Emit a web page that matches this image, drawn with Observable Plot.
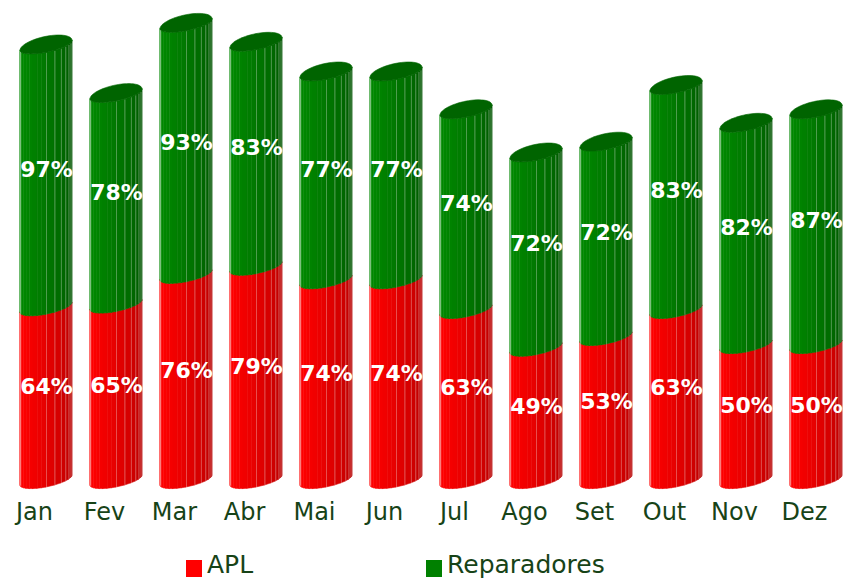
<!DOCTYPE html>
<html><head><meta charset="utf-8">
<script src="https://cdn.jsdelivr.net/npm/d3@7"></script>
<script src="https://cdn.jsdelivr.net/npm/@observablehq/plot@0.6"></script>
<style>
html,body{margin:0;padding:0;background:#fff;}
#chart{position:relative;width:843px;height:580px;overflow:hidden;font-family:"DejaVu Sans",Verdana,sans-serif;}
#plot{position:absolute;left:0;top:0;}
#legend{position:absolute;left:0;top:540px;width:843px;height:40px;}
.item{position:absolute;top:12px;height:25px;line-height:25px;font-size:25px;color:#174317;white-space:nowrap;}
.sw{position:absolute;top:8px;left:0;width:16px;height:17px;}
.lbl{position:absolute;left:21px;top:0;}
</style></head><body>
<div id="chart"><div id="plot"></div><div id="legend"></div></div>
<script>
// ---- data ----
const months = ["Jan","Fev","Mar","Abr","Mai","Jun","Jul","Ago","Set","Out","Nov","Dez"];
const apl = [64,65,76,79,74,74,63,49,53,63,50,50];
const reparadores = [97,78,93,83,77,77,74,72,72,83,82,87];
const seriesNames = ["APL","Reparadores"];

// ---- styles / geometry ----
const W = 843, H = 540;
const xRange = [34, 804], yDomain = [0, 170], yRange = [480, 21];
const pxX = (xRange[1]-xRange[0])/(months.length-1);
const pxY = (yRange[0]-yRange[1])/(yDomain[1]-yDomain[0]);
const OFF = 12/pxX, R = 26/pxX, TILT = 5/pxY, BF = 7/pxY, BB = 9/pxY;
const seriesColors = ["#ff0000", "#008000"];
const palettes = [{bright:"#ff0000", dark:"#b40000"}, {bright:"#008a00", dark:"#005400"}];
const capColor = "#006400";
const textColor = "#174317";
const stripAngles = [180,170,160,150,140,130,120,110,100,90,71,55,42,30,19,9,0];
const lineAngles = [180,173,90,71,55,42,30,19];

const rad = d => d*Math.PI/180;
const fx = (c, a) => c + R*Math.cos(rad(a));
const fy = (v, a) => v + TILT*Math.cos(rad(a)) - BF*Math.sin(rad(a));

const segments = [];
months.forEach((m, i) => {
  const vals = [apl[i], reparadores[i]];
  let lo = 0;
  vals.forEach((v, s) => { segments.push({i, s, lo, hi: lo+v, value: v, c: i+OFF}); lo += v; });
});

const strips = [];
segments.forEach((g, gi) => {
  for (let k = 0; k < stripAngles.length-1; k++) {
    const a0 = stripAngles[k], a1 = stripAngles[k+1], am = (a0+a1)/2;
    const t = (1-Math.cos(rad(am)))/2;
    const col = d3.interpolateRgb(palettes[g.s].dark, palettes[g.s].bright)(Math.pow(t, 0.6));
    const id = gi*100+k;
    for (const a of [a0, a1]) strips.push({id, x: fx(g.c, a), y1: fy(g.lo, a), y2: fy(g.hi, a), fill: col});
  }
});

const caps = [];
segments.filter(g => g.s === seriesNames.length-1).forEach(g => {
  for (let a = 0; a <= 180; a += 6) {
    caps.push({id: g.i, x: fx(g.c, a), y1: fy(g.hi, a), y2: g.hi + TILT*Math.cos(rad(a)) + BB*Math.sin(rad(a))});
  }
});

const lines = [];
segments.forEach(g => lineAngles.forEach(a => lines.push({x: fx(g.c, a), y1: fy(g.lo, a), y2: fy(g.hi, a)})));

const chart = Plot.plot({
  width: W, height: H, margin: 0,
  style: {background: "transparent", fontFamily: "'DejaVu Sans', Verdana, sans-serif"},
  x: {type: "linear", domain: [0, months.length-1], range: xRange, axis: null},
  y: {type: "linear", domain: yDomain, range: yRange, axis: null},
  color: {type: "identity"},
  marks: [
    Plot.areaY(strips, {x: "x", y1: "y1", y2: "y2", z: "id", fill: "fill", stroke: "fill", strokeWidth: 0.6, curve: "linear"}),
    Plot.link(lines, {x1: "x", x2: "x", y1: "y1", y2: "y2", stroke: "#ffffff", strokeOpacity: 0.3, strokeWidth: 1}),
    Plot.areaY(caps, {x: "x", y1: "y1", y2: "y2", z: "id", fill: capColor, stroke: capColor, strokeWidth: 0.6, curve: "linear"}),
    Plot.text(segments, {x: "c", y: d => (d.lo+d.hi)/2, text: d => d.value + "%", fill: "white", fontSize: 22, fontWeight: "bold", dy: -7}),
    Plot.text(months, {x: (d, i) => i, y: d => 0, text: d => d, fill: textColor, fontSize: 24, dy: 32})
  ]
});
document.getElementById("plot").appendChild(chart);

// legend
const legend = document.getElementById("legend");
const legendLeft = [186, 426];
seriesNames.forEach((name, s) => {
  const item = document.createElement("div");
  item.className = "item";
  item.style.left = legendLeft[s] + "px";
  const sw = document.createElement("div");
  sw.className = "sw"; sw.style.background = seriesColors[s];
  const lbl = document.createElement("span");
  lbl.className = "lbl"; lbl.textContent = name;
  item.appendChild(sw); item.appendChild(lbl);
  legend.appendChild(item);
});
</script>
</body></html>
